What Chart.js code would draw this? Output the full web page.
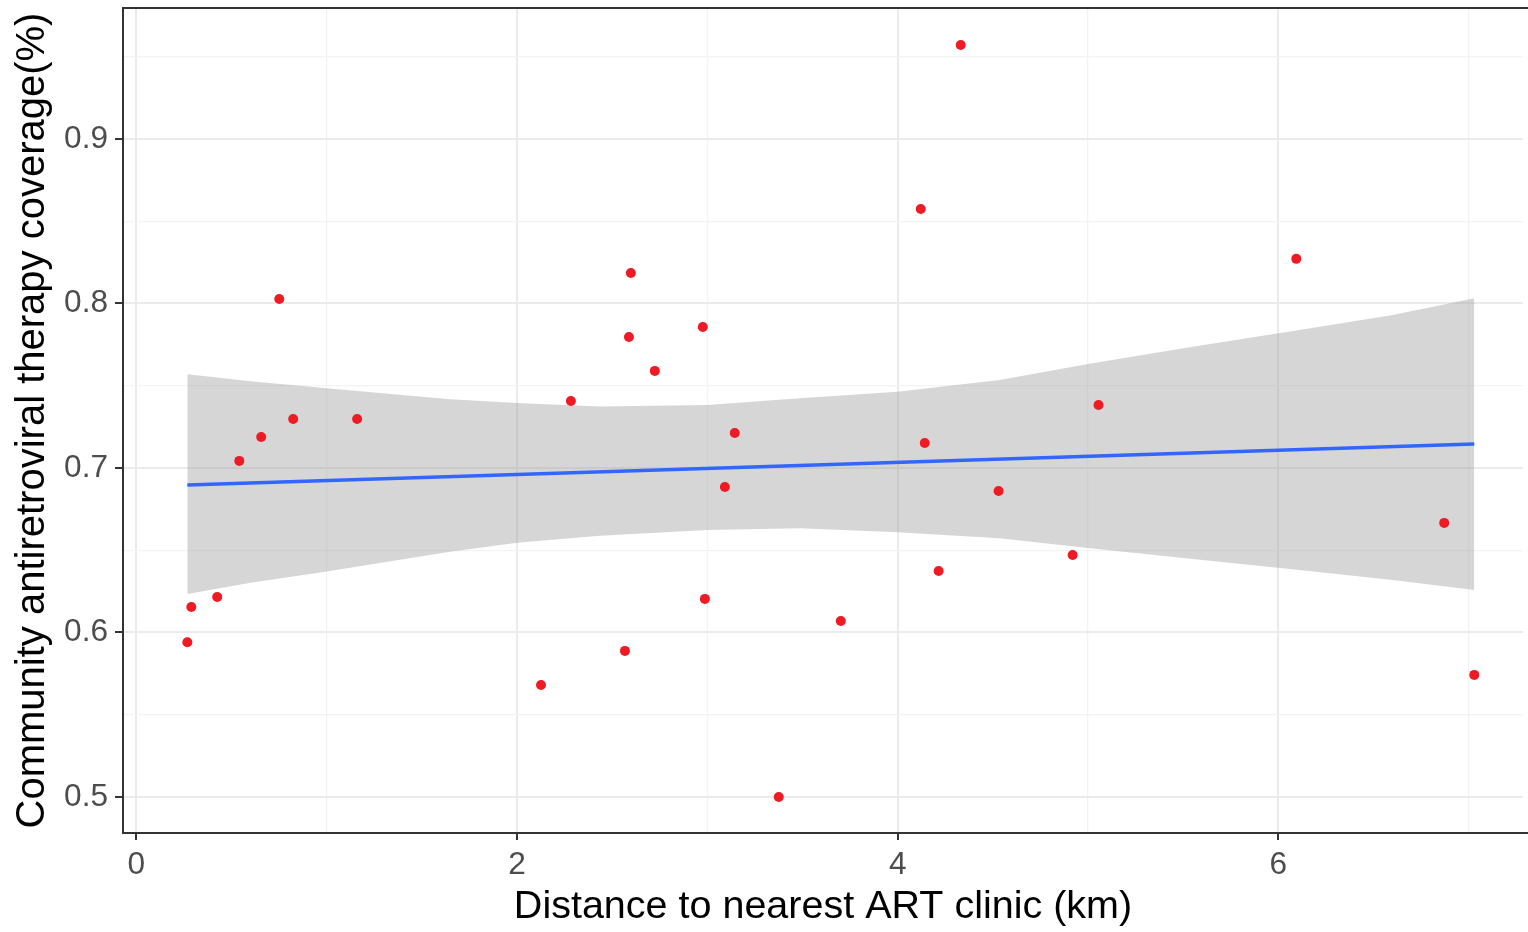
<!DOCTYPE html>
<html>
<head>
<meta charset="utf-8">
<title>ART coverage vs distance</title>
<script src="https://cdn.jsdelivr.net/npm/chart.js@4/dist/chart.umd.min.js"></script>
<style>
    html, body { margin: 0; padding: 0; background: #ffffff; overflow: hidden; }
    #wrap { width: 1528px; height: 932px; }
</style>
</head>
<body>
<div id="wrap"><canvas id="scatterChart" width="1528" height="932"></canvas></div>
<script>
// village points: distance (km) and coverage
const distanceKm = [0.268, 0.289, 0.425, 0.541, 0.656, 0.751, 0.824, 1.160, 2.126, 2.283,
    2.567, 2.588, 2.598, 2.724, 2.976, 2.987, 3.092, 3.144, 3.375, 3.701,
    4.121, 4.142, 4.215, 4.331, 4.530, 4.919, 5.055, 6.094, 6.871, 7.029];
const coverage = [0.594, 0.6155, 0.6216, 0.7043, 0.7188, 0.8027, 0.7298, 0.7298, 0.5681, 0.7407,
    0.5888, 0.7796, 0.8185, 0.759, 0.7857, 0.6204, 0.6884, 0.7213, 0.500, 0.607,
    0.8574, 0.7152, 0.6374, 0.9571, 0.686, 0.6471, 0.7383, 0.8271, 0.6666, 0.5742];

// fitted line (lm) end points
const fitX = [0.268, 7.029];
const fitY = [0.6897, 0.7146];

// confidence band read at a few distances
const bandX = [0.268, 0.6, 1.0, 1.648, 2.0, 2.436, 3.0, 3.486, 4.0, 4.535, 5.0, 5.5, 6.11, 6.6, 7.029];
const bandUpper = [0.757, 0.7527, 0.7484, 0.7418, 0.7395, 0.7373, 0.7383, 0.7424, 0.7464, 0.7535, 0.7632, 0.7728, 0.7839, 0.793, 0.8032];
const bandLower = [0.6234, 0.6302, 0.637, 0.6491, 0.6545, 0.6588, 0.6623, 0.6633, 0.6609, 0.6573, 0.6514, 0.6452, 0.638, 0.6319, 0.6258];

const xTicksMajor = [0, 2, 4, 6];
const yTicksMajor = ['0.5', '0.6', '0.7', '0.8', '0.9'];

const toXY = (xs, ys) => xs.map((x, i) => ({ x: x, y: ys[i] }));

const FONT = "'Liberation Sans', Arial, sans-serif";

function isMajorX(v) { return Math.abs(v - Math.round(v)) < 1e-6 && xTicksMajor.indexOf(Math.round(v)) !== -1; }
function isMajorY(v) { return Math.round(v * 100) % 10 === 0 && yTicksMajor.indexOf(v.toFixed(1)) !== -1; }

// panel border (left, top, bottom; the right edge is cut off in the original)
const panelBorder = {
    id: 'panelBorder',
    afterDatasetsDraw(chart) {
        const a = chart.chartArea;
        const c = chart.ctx;
        c.save();
        c.strokeStyle = '#333333';
        c.lineWidth = 2;
        c.beginPath();
        c.moveTo(a.right + 5, a.top);
        c.lineTo(a.left, a.top);
        c.lineTo(a.left, a.bottom);
        c.lineTo(a.right + 5, a.bottom);
        c.stroke();
        c.restore();
    }
};

const ctx = document.getElementById('scatterChart').getContext('2d');
new Chart(ctx, {
    type: 'line',
    data: {
        datasets: [
            {
                label: 'points',
                data: toXY(distanceKm, coverage),
                showLine: false,
                pointRadius: 5,
                pointBackgroundColor: '#ee1b24',
                pointBorderWidth: 0,
                pointHoverRadius: 5
            },
            {
                label: 'fit',
                data: toXY(fitX, fitY),
                borderColor: '#3366ff',
                borderWidth: 3.5,
                pointRadius: 0,
                fill: false
            },
            {
                label: 'upper',
                data: toXY(bandX, bandUpper),
                borderWidth: 0,
                borderColor: 'rgba(0,0,0,0)',
                pointRadius: 0,
                backgroundColor: 'rgba(153,153,153,0.4)',
                fill: '+1'
            },
            {
                label: 'lower',
                data: toXY(bandX, bandLower),
                borderWidth: 0,
                borderColor: 'rgba(0,0,0,0)',
                pointRadius: 0,
                fill: false
            }
        ]
    },
    options: {
        responsive: false,
        animation: false,
        events: [],
        layout: { padding: { top: 8, left: 0, right: 0, bottom: 0 } },
        plugins: {
            legend: { display: false },
            tooltip: { enabled: false }
        },
        scales: {
            x: {
                type: 'linear',
                min: -0.070,
                max: 7.285,
                afterFit: function (scale) {
                    scale.height = 99;
                    scale.paddingLeft = 0;
                    scale.paddingRight = 0;
                },
                border: { display: false },
                grid: {
                    color: c => isMajorX(c.tick.value) ? '#ebebeb' : '#f3f3f3',
                    lineWidth: c => isMajorX(c.tick.value) ? 2 : 1.3,
                    tickColor: c => isMajorX(c.tick.value) ? '#333333' : 'rgba(0,0,0,0)',
                    tickWidth: 2,
                    tickLength: 7
                },
                ticks: {
                    stepSize: 1,
                    includeBounds: false,
                    autoSkip: false,
                    maxRotation: 0,
                    padding: 6,
                    color: '#4d4d4d',
                    font: { family: FONT, size: 31.6 },
                    callback: v => isMajorX(v) ? String(Math.round(v)) : ''
                },
                title: {
                    display: true,
                    text: 'Distance to nearest ART clinic (km)',
                    color: '#000000',
                    font: { family: FONT, size: 39.5 },
                    padding: { top: 0, bottom: 1.3 }
                }
            },
            y: {
                type: 'linear',
                min: 0.4781,
                max: 0.9796,
                afterFit: function (scale) {
                    scale.width = 123;
                    scale.paddingTop = 0;
                    scale.paddingBottom = 0;
                },
                border: { display: false },
                grid: {
                    color: c => isMajorY(c.tick.value) ? '#ebebeb' : '#f3f3f3',
                    lineWidth: c => isMajorY(c.tick.value) ? 2 : 1.3,
                    tickColor: c => isMajorY(c.tick.value) ? '#333333' : 'rgba(0,0,0,0)',
                    tickWidth: 2,
                    tickLength: 8
                },
                ticks: {
                    stepSize: 0.05,
                    includeBounds: false,
                    autoSkip: false,
                    padding: 7,
                    color: '#4d4d4d',
                    font: { family: FONT, size: 31.6 },
                    callback: v => isMajorY(v) ? v.toFixed(1) : ''
                },
                title: {
                    display: true,
                    text: 'Community antiretroviral therapy coverage(%)',
                    color: '#000000',
                    font: { family: FONT, size: 40 },
                    padding: { top: 9, bottom: 0 }
                }
            }
        }
    },
    plugins: [panelBorder]
});
</script>
</body>
</html>
